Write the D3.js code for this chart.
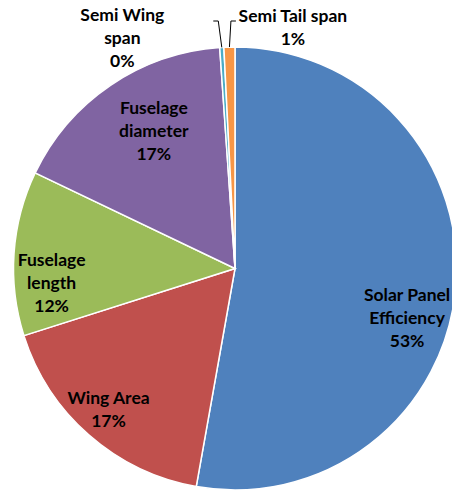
<!DOCTYPE html>
<html lang="en">
<head>
<meta charset="UTF-8">
<script src="https://cdn.jsdelivr.net/npm/d3@7"></script>
<style>
  html, body { margin: 0; padding: 0; background: #fff; }
  svg { display: block; }
  text { font-family: Lato, "Open Sans", sans-serif; font-weight: bold; font-size: 17.5px; fill: #000; }
</style>
</head>
<body>
<svg id="chart" width="452" height="492"></svg>
<script>
// slice data (share of total, %)
var categories = ["Solar Panel Efficiency", "Wing Area", "Fuselage length", "Fuselage diameter", "Semi Wing span", "Semi Tail span"];
var values = [52.8, 17.3, 12.0, 16.8, 0.3, 0.8];
var labelLines = [["Solar Panel", "Efficiency"], ["Wing Area"], ["Fuselage", "length"], ["Fuselage", "diameter"], ["Semi Wing", "span"], ["Semi Tail span"]];
var colors = ["#4F81BD", "#C0504D", "#9BBB59", "#8064A2", "#4BACC6", "#F79646"];

// label placement: polar [angle deg clockwise from top, distance] from the pie centre
var labelPos = [[106, 179], [222, 189], [265.5, 184], [329.5, 160], [334, 257], [13.5, 248]];

var svg = d3.select("#chart"),
    cx = 235, cy = 268.5, r = 221.5;

var g = svg.append("g").attr("transform", "translate(" + cx + "," + cy + ")");

var pie = d3.pie().sort(null).value(function(d) { return d; });
var arcs = pie(values);
var arc = d3.arc().innerRadius(0).outerRadius(r);

g.selectAll("path.slice")
  .data(arcs)
  .enter().append("path")
  .attr("class", "slice")
  .attr("d", arc)
  .attr("fill", function(d, i) { return colors[i]; })
  .attr("stroke", "#fff")
  .attr("stroke-width", 1.5);

var fmt = d3.format(".0f");

function polar(a, d) {
  var t = a * Math.PI / 180;
  return [Math.sin(t) * d, -Math.cos(t) * d];
}

arcs.forEach(function(d, i) {
  var p = polar(labelPos[i][0], labelPos[i][1]);
  var lines = labelLines[i].concat([fmt(values[i]) + "%"]);
  var lh = 23;
  var y0;
  if (i === 5) y0 = p[1] - lh / 2;
  else y0 = p[1] - (lines.length - 1) * lh / 2;
  if (i === 4) y0 = p[1] - lh;
  var t = g.append("text").attr("text-anchor", "middle");
  lines.forEach(function(s, j) {
    t.append("tspan").attr("x", p[0]).attr("y", y0 + j * lh).attr("dy", "0.35em").text(s);
  });
});

// leader lines for the two thin slices
var leader = d3.line();
[4, 5].forEach(function(i) {
  var a = arcs[i];
  var mid = (a.startAngle + a.endAngle) / 2;
  var edge = [Math.sin(mid) * r, -Math.cos(mid) * r];
  var bend = i === 4 ? [edge[0] - 3.5, 21 - cy] : [edge[0] + 1.5, 21 - cy];
  var end = i === 4 ? [bend[0] - 5, bend[1]] : [bend[0] + 5, bend[1]];
  g.append("path")
    .attr("d", leader([edge, bend, end]))
    .attr("fill", "none")
    .attr("stroke", "#000")
    .attr("stroke-width", 1);
});
</script>
</body>
</html>
